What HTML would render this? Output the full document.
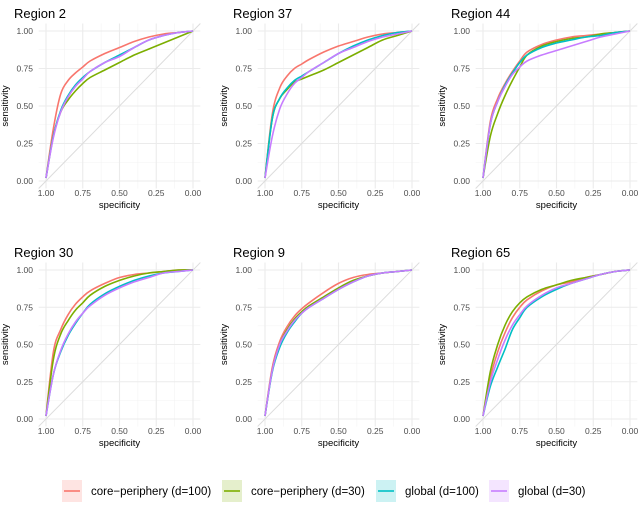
<!DOCTYPE html>
<html><head><meta charset="utf-8"><style>
body{margin:0;background:#fff;font-family:"Liberation Sans",sans-serif}
svg text{font-family:"Liberation Sans",sans-serif}
</style></head><body>
<svg id="c" width="640" height="503" xmlns="http://www.w3.org/2000/svg"></svg>
<script>
const regions=["Region 2","Region 37","Region 44","Region 30","Region 9","Region 65"];
const seriesNames=["core\u2212periphery (d=100)","core\u2212periphery (d=30)","global (d=100)","global (d=30)"];
const colors=["#F8766D","#7CAE00","#00BFC4","#C77CFF"];
const specGrid=[1,0.95,0.9,0.85,0.8,0.75,0.7,0.6,0.5,0.4,0.3,0.2,0.1,0];
const tickVals=[1,0.75,0.5,0.25,0];
const tickLabels=["1.00","0.75","0.50","0.25","0.00"];
// sensitivity values per region, per series (order of seriesNames)
const sensR2=[[0.02,0.35,0.58,0.67,0.72,0.76,0.80,0.85,0.89,0.93,0.96,0.98,0.99,1],[0.02,0.30,0.46,0.54,0.60,0.65,0.69,0.74,0.79,0.84,0.88,0.92,0.96,1],[0.02,0.30,0.47,0.57,0.64,0.69,0.73,0.79,0.84,0.89,0.94,0.97,0.99,1],[0.02,0.29,0.46,0.56,0.63,0.68,0.73,0.79,0.83,0.89,0.94,0.97,0.99,1]];
const sensR37=[[0.02,0.45,0.62,0.70,0.75,0.78,0.81,0.86,0.90,0.93,0.96,0.98,0.99,1],[0.02,0.42,0.55,0.61,0.66,0.68,0.70,0.74,0.79,0.84,0.89,0.94,0.97,1],[0.02,0.42,0.55,0.62,0.67,0.70,0.73,0.79,0.85,0.90,0.94,0.97,0.99,1],[0.02,0.30,0.48,0.58,0.65,0.69,0.73,0.79,0.85,0.89,0.93,0.96,0.98,1]];
const sensR44=[[0.02,0.40,0.55,0.65,0.73,0.80,0.86,0.91,0.94,0.96,0.97,0.98,0.99,1],[0.02,0.30,0.45,0.57,0.67,0.76,0.84,0.90,0.93,0.95,0.96,0.98,0.99,1],[0.02,0.38,0.53,0.64,0.72,0.79,0.84,0.89,0.92,0.94,0.96,0.97,0.99,1],[0.02,0.38,0.53,0.63,0.71,0.76,0.80,0.84,0.87,0.90,0.93,0.96,0.98,1]];
const sensR30=[[0.02,0.45,0.60,0.70,0.77,0.82,0.86,0.91,0.95,0.97,0.98,0.99,1,1],[0.02,0.40,0.57,0.66,0.73,0.78,0.83,0.89,0.93,0.96,0.98,0.99,1,1],[0.02,0.30,0.45,0.56,0.64,0.71,0.77,0.84,0.89,0.93,0.96,0.98,0.99,1],[0.02,0.30,0.46,0.57,0.65,0.71,0.76,0.83,0.88,0.92,0.95,0.98,0.99,1]];
const sensR9=[[0.02,0.35,0.52,0.62,0.69,0.74,0.78,0.85,0.91,0.95,0.97,0.98,0.99,1],[0.02,0.33,0.50,0.60,0.67,0.72,0.76,0.82,0.88,0.93,0.96,0.98,0.99,1],[0.02,0.32,0.48,0.58,0.65,0.71,0.75,0.81,0.87,0.92,0.96,0.98,0.99,1],[0.02,0.33,0.50,0.59,0.66,0.71,0.75,0.81,0.87,0.92,0.96,0.98,0.99,1]];
const sensR65=[[0.02,0.28,0.45,0.58,0.68,0.75,0.80,0.86,0.90,0.92,0.95,0.97,0.99,1],[0.02,0.32,0.50,0.63,0.72,0.78,0.82,0.87,0.90,0.93,0.95,0.97,0.99,1],[0.02,0.22,0.35,0.47,0.60,0.68,0.75,0.82,0.87,0.91,0.94,0.97,0.99,1],[0.02,0.25,0.40,0.53,0.63,0.70,0.76,0.83,0.88,0.91,0.94,0.97,0.99,1]];
const sensAll=[sensR2,sensR37,sensR44,sensR30,sensR9,sensR65];

const NS="http://www.w3.org/2000/svg";
const svg=document.getElementById('c');
function mk(tag,attrs,parent){const e=document.createElementNS(NS,tag);for(const k in attrs)e.setAttribute(k,attrs[k]);(parent||svg).appendChild(e);return e;}
function smoothPath(p){let d='M'+p[0][0].toFixed(1)+','+p[0][1].toFixed(1);
  for(let i=0;i<p.length-1;i++){const p0=p[i-1]||p[i],p1=p[i],p2=p[i+1],p3=p[i+2]||p2;
    const c1=[p1[0]+(p2[0]-p0[0])/6,p1[1]+(p2[1]-p0[1])/6],c2=[p2[0]-(p3[0]-p1[0])/6,p2[1]-(p3[1]-p1[1])/6];
    d+=` C${c1[0].toFixed(1)},${c1[1].toFixed(1)} ${c2[0].toFixed(1)},${c2[1].toFixed(1)} ${p2[0].toFixed(1)},${p2[1].toFixed(1)}`;}
  return d;}
const colX=[46,265,483], rowY=[[31,181],[270,419]], W=147;
regions.forEach((name,i)=>{
  const c=i%3,r=Math.floor(i/3);
  const x1=colX[c], y1=rowY[r][0], y0=rowY[r][1], H=y0-y1;
  const sx=v=>x1+(1-v)*W, sy=v=>y0-v*H;
  const g=mk('g',{});
  
  
  [0.125,0.375,0.625,0.875].forEach(v=>{
    mk('line',{x1:sx(v),x2:sx(v),y1:sy(1.05),y2:sy(-0.05),stroke:'#f3f3f3','stroke-width':0.6},g);
    mk('line',{x1:sx(1.05),x2:sx(-0.05),y1:sy(v),y2:sy(v),stroke:'#f3f3f3','stroke-width':0.6},g);
  });
  tickVals.forEach((v,k)=>{
    mk('line',{x1:sx(v),x2:sx(v),y1:sy(1.05),y2:sy(-0.05),stroke:'#ebebeb','stroke-width':1.1},g);
    mk('line',{x1:sx(1.05),x2:sx(-0.05),y1:sy(v),y2:sy(v),stroke:'#ebebeb','stroke-width':1.1},g);
    const tx=mk('text',{x:sx(v),y:y0+15,'font-size':8.5,fill:'#4d4d4d','text-anchor':'middle'},g);tx.textContent=tickLabels[k];
    
    const ty=mk('text',{x:x1-13,y:sy(v)+3,'font-size':8.5,fill:'#4d4d4d','text-anchor':'end'},g);ty.textContent=tickLabels[k];
    
  });
  mk('line',{x1:sx(1.05),y1:sy(-0.05),x2:sx(-0.05),y2:sy(1.05),stroke:'#dcdcdc','stroke-width':1},g);
  sensAll[i].forEach((s,k)=>{
    const pts=specGrid.map((sp,j)=>[sx(sp),sy(s[j])]);
    const p=mk('path',{d:smoothPath(pts),fill:'none',stroke:colors[k],'stroke-width':1.6,'stroke-linejoin':'round'},g);
    
    
  });
  const t=mk('text',{x:x1-32,y:y1-13,'font-size':13,fill:'#000'},g);t.textContent=name;
  
  const xt=mk('text',{x:x1+W/2,y:y0+27,'font-size':9.5,fill:'#000','text-anchor':'middle'},g);xt.textContent='specificity';
  
  const yx=x1-38, yy=y1+H/2;
  const yt=mk('text',{x:yx,y:yy,'font-size':9.5,fill:'#000','text-anchor':'middle',transform:`rotate(-90 ${yx} ${yy})`},g);yt.textContent='sensitivity';
  
});
const leg=mk('g',{});


const keyX=[62,222,376,489];
seriesNames.forEach((n,k)=>{
  const e=mk('g',{},leg);
  
  
  mk('rect',{x:keyX[k],y:480,width:20,height:22,fill:colors[k],'fill-opacity':0.2},e);
  mk('line',{x1:keyX[k]+2,x2:keyX[k]+18,y1:491,y2:491,stroke:colors[k],'stroke-width':1.6},e);
  const t=mk('text',{x:keyX[k]+29,y:495,'font-size':11.5,fill:'#000'},e);t.textContent=n;
});
</script>
</body></html>
